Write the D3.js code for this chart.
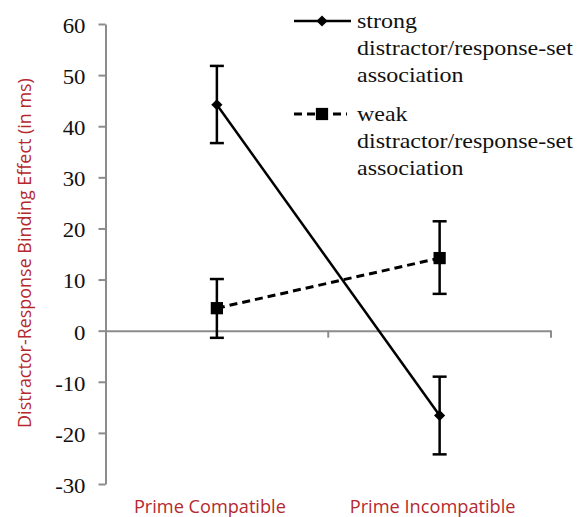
<!DOCTYPE html>
<html>
<head>
<meta charset="utf-8">
<script src="https://cdn.jsdelivr.net/npm/d3@7"></script>
<style>
  body { margin: 0; background: #fff; }
</style>
</head>
<body>
<div id="chart"></div>
<script>
// Data
let categories = ["Prime Compatible", "Prime Incompatible"];
let strongMean = [44.2, -16.6];
let strongLow = [36.7, -24.2];
let strongHigh = [51.8, -9.0];
let weakMean = [4.4, 14.2];
let weakLow = [-1.4, 7.2];
let weakHigh = [10.1, 21.4];
let yTicks = [60, 50, 40, 30, 20, 10, 0, -10, -20, -30];

let w = 578, h = 517;
let red = "#b5282e", axisGrey = "#8c8c8c";
let serif = "'Liberation Serif', serif";
let sans = "'Open Sans', 'Noto Sans', sans-serif";
// the serif text in the original is a bit wide
let tickStretch = 1.14, legendStretch = 1.2;

let svg = d3.select("#chart").append("svg")
  .attr("width", w).attr("height", h)
  .attr("viewBox", [0, 0, w, h]);

let x = d3.scaleBand().domain(categories).range([105.5, 551]);
let y = d3.scaleLinear().domain([-30, 60]).range([484, 24]);
let cx = (d) => x(d) + x.bandwidth() / 2;

// shrink/grow a text to a wanted width
function fitWidth(sel, target) {
  sel.each(function () {
    let t = d3.select(this);
    let fs = +t.attr("font-size");
    let len = this.getComputedTextLength();
    if (len > 0) t.attr("font-size", fs * target / len);
  });
}

// Y axis
let yAxis = svg.append("g")
  .attr("transform", "translate(105.5,0)")
  .call(d3.axisLeft(y).tickValues(yTicks).tickSize(7).tickSizeOuter(0)
    .tickPadding(13).tickFormat((d) => String(d)));
yAxis.select(".domain").attr("stroke", axisGrey).attr("stroke-width", 2);
yAxis.selectAll(".tick line").attr("stroke", axisGrey).attr("stroke-width", 2);
yAxis.selectAll(".tick text")
  .style("font-family", serif)
  .attr("font-size", 20).attr("fill", "#111")
  .attr("x", -20 / tickStretch)
  .attr("dy", "0.42em")
  .attr("transform", `scale(${tickStretch},1)`);

// X axis at zero
let xAxis = svg.append("g")
  .attr("transform", `translate(0,${y(0)})`)
  .call(d3.axisBottom(x).tickSize(0).tickFormat(""));
xAxis.select(".domain").attr("stroke", axisGrey).attr("stroke-width", 2);
// category boundary ticks
svg.append("g")
  .selectAll("line")
  .data([x.range()[0] + x.bandwidth(), x.range()[1]])
  .join("line")
  .attr("x1", (d) => d).attr("x2", (d) => d)
  .attr("y1", y(0)).attr("y2", y(0) + 7)
  .attr("stroke", axisGrey).attr("stroke-width", 2);

// Category labels
let catWidths = [152, 166];
svg.append("g")
  .selectAll("text")
  .data(categories)
  .join("text")
  .style("font-family", sans)
  .attr("x", (d) => cx(d) - 7)
  .attr("y", 513)
  .attr("text-anchor", "middle")
  .attr("font-size", 16)
  .attr("fill", red)
  .text((d) => d)
  .each(function (d, i) { fitWidth(d3.select(this), catWidths[i]); });

// Y title
svg.append("text")
  .style("font-family", sans)
  .attr("transform", "translate(31,253) rotate(-90)")
  .attr("text-anchor", "middle")
  .attr("font-size", 16)
  .attr("fill", red)
  .text("Distractor-Response Binding Effect (in ms)")
  .call(fitWidth, 350);

let series = [
  { mean: strongMean, low: strongLow, high: strongHigh, dash: null, width: 2.5, shape: d3.symbolDiamond2, size: 80 },
  { mean: weakMean, low: weakLow, high: weakHigh, dash: "8,5", width: 3, shape: d3.symbolSquare, size: 150 }
];

let line = d3.line().x((d, i) => cx(categories[i])).y((d) => y(d));

series.forEach((s) => {
  let g = svg.append("g");
  // Error bars
  g.selectAll("line.err")
    .data(categories)
    .join("line")
    .attr("x1", cx).attr("x2", cx)
    .attr("y1", (d, i) => y(s.low[i])).attr("y2", (d, i) => y(s.high[i]))
    .attr("stroke", "#000").attr("stroke-width", 2.5);
  g.selectAll("line.capT")
    .data(categories)
    .join("line")
    .attr("x1", (d) => cx(d) - 7).attr("x2", (d) => cx(d) + 7)
    .attr("y1", (d, i) => y(s.high[i])).attr("y2", (d, i) => y(s.high[i]))
    .attr("stroke", "#000").attr("stroke-width", 2.5);
  g.selectAll("line.capB")
    .data(categories)
    .join("line")
    .attr("x1", (d) => cx(d) - 7).attr("x2", (d) => cx(d) + 7)
    .attr("y1", (d, i) => y(s.low[i])).attr("y2", (d, i) => y(s.low[i]))
    .attr("stroke", "#000").attr("stroke-width", 2.5);
  // Connecting line
  g.append("path")
    .attr("d", line(s.mean))
    .attr("fill", "none")
    .attr("stroke", "#000")
    .attr("stroke-width", s.width)
    .attr("stroke-dasharray", s.dash);
  // Markers
  g.selectAll("path.mk")
    .data(s.mean)
    .join("path")
    .attr("transform", (d, i) => `translate(${cx(categories[i])},${y(d)})`)
    .attr("d", d3.symbol(s.shape, s.size))
    .attr("fill", "#000");
});

// Legend
let legend = [
  { y: 21, x2: 351, lines: ["strong", "distractor/response-set", "association"] },
  { y: 114, x2: 347, lines: ["weak", "distractor/response-set", "association"] }
];
legend.forEach((l, k) => {
  let s = series[k];
  let g = svg.append("g");
  g.append("line")
    .attr("x1", 294).attr("x2", l.x2)
    .attr("y1", l.y).attr("y2", l.y)
    .attr("stroke", "#000").attr("stroke-width", s.width)
    .attr("stroke-dasharray", s.dash);
  g.append("path")
    .attr("transform", `translate(322,${l.y})`)
    .attr("d", d3.symbol(s.shape, s.size))
    .attr("fill", "#000");
  g.selectAll("text")
    .data(l.lines)
    .join("text")
    .style("font-family", serif)
    .attr("transform", (d, i) => `translate(357,${l.y + 6.5 + i * 27}) scale(${legendStretch},1)`)
    .attr("font-size", 20)
    .attr("fill", "#111")
    .text((d) => d);
});
</script>
</body>
</html>
